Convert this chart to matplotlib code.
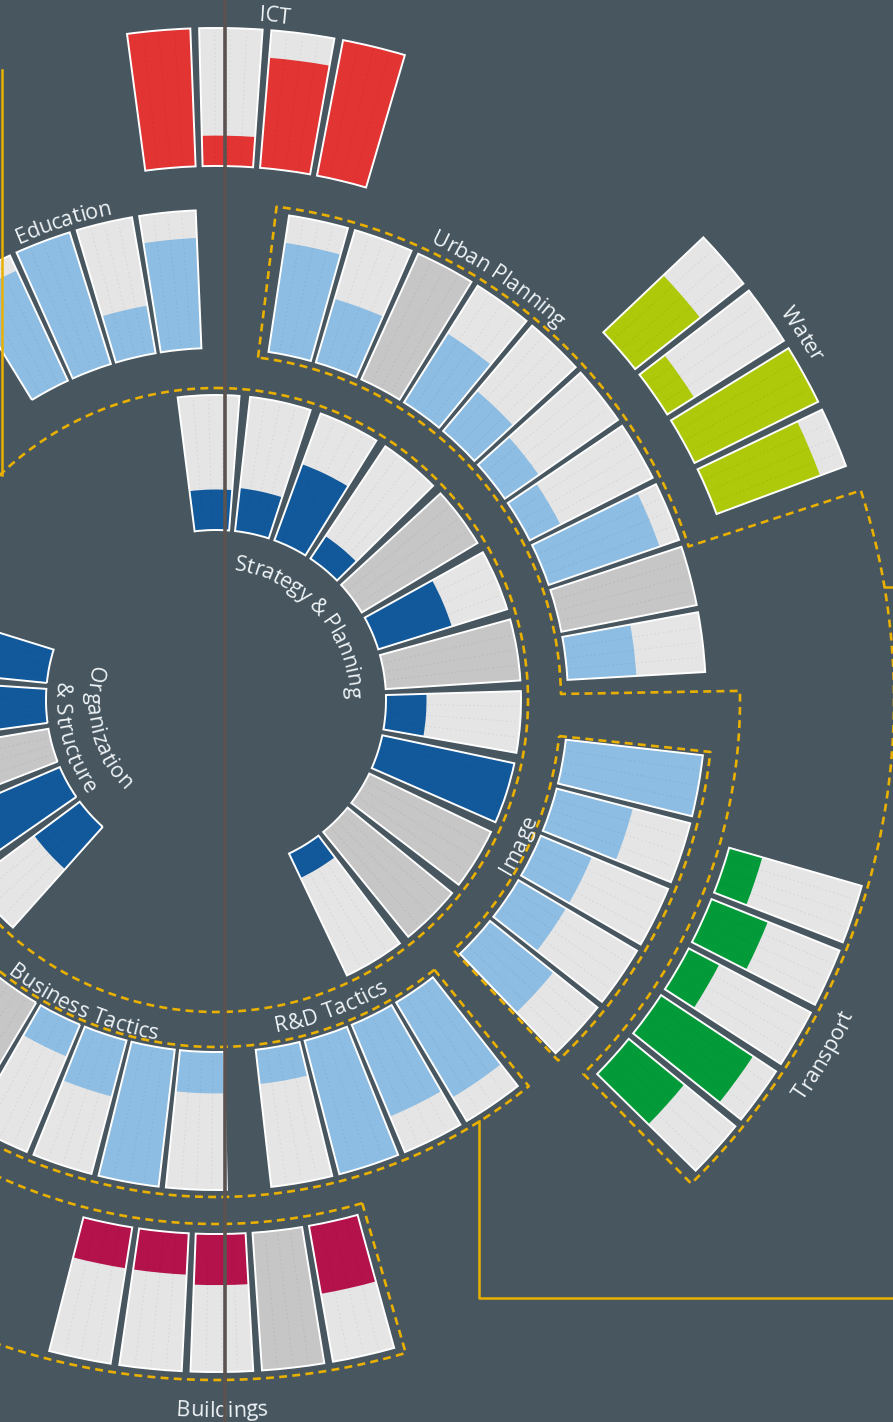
import numpy as np
import matplotlib
matplotlib.use("Agg")
import matplotlib.pyplot as plt
from matplotlib.font_manager import FontProperties
from matplotlib.textpath import TextToPath

# ---- data: share of each indicator that is filled (None = no data) ----
strategy_vals = [0.30, 0.32, 0.60, 0.20, None, 0.57, None, 0.30, 1.00, None, None, 0.20]
organization_vals = [0.42, 0.75, None, 0.60, 0.70]
urban_vals = [0.80, 0.48, None, 0.59, 0.38, 0.30, 0.25, 0.85, None, 0.50]
image_vals = [1.00, 0.57, 0.40, 0.40, 0.59]
rnd_vals = [0.80, 0.72, 1.00, 0.25]
business_vals = [0.30, 1.00, 0.42, 0.25, None]
education_vals = [0.88, 1.00, 0.35, 0.80]
ict_vals = [1.00, 0.22, 0.80, 1.00]
water_vals = [0.60, 0.23, 1.00, 0.80]
transport_vals = [0.25, 0.44, 0.25, 0.80, 0.52]
buildings_vals = [0.50, None, 0.37, 0.30, 0.30]

# ---- style / layout ----
W, H, DPI = 893, 1422, 100
CX, CY = 216, 700          # wheel centre in pixels
RMAX = 760
BG = "#47565f"
LIGHT = "#e5e5e5"
NODATA = "#c6c6c6"
GOLD = "#e9b000"
TEXT = "#eef3f6"
DARK_BLUE = "#12599c"
LIGHT_BLUE = "#8dbde3"
RED = "#e23432"
LIME = "#adc90a"
GREEN = "#039b39"
CRIMSON = "#b3124b"
FONT = "Open Sans"
FS = 15.5

RINGS = [(170, 305), (352, 490), (534, 672)]
GAPS = [2.0, 0.85, 0.75]   # degrees between neighbouring bars

# name, values, colour, ring, first angle, pitch (compass degrees)
groups = [
    ("Strategy", strategy_vals, DARK_BLUE, 0, -1.4, 13.65),
    ("Organization", organization_vals, DARK_BLUE, 0, 227.5, 13.5),
    ("Urban", urban_vals, LIGHT_BLUE, 1, 12.1, 7.9),
    ("Image", image_vals, LIGHT_BLUE, 1, 100.1, 8.1),
    ("R&D", rnd_vals, LIGHT_BLUE, 1, 145.6, 8.1),
    ("Business", business_vals, LIGHT_BLUE, 1, 182.3, 8.0),
    ("Education", education_vals, LIGHT_BLUE, 1, 331.8, 7.5),
    ("ICT", ict_vals, RED, 2, 355.1, 6.17),
    ("Water", water_vals, LIME, 2, 49.1, 5.97),
    ("Transport", transport_vals, GREEN, 2, 108.6, 5.83),
    ("Buildings", buildings_vals, CRIMSON, 2, 167.3, 6.1),
]

fig = plt.figure(figsize=(W / DPI, H / DPI), dpi=DPI, facecolor=BG)
ax = fig.add_axes([(CX - RMAX) / W, (H - CY - RMAX) / H, 2 * RMAX / W, 2 * RMAX / H],
                  projection="polar")
ax.set_theta_zero_location("N")
ax.set_theta_direction(-1)
ax.set_ylim(0, RMAX)
ax.axis("off")

# bars
for name, vals, colour, ring, start, pitch in groups:
    r0, r1 = RINGS[ring]
    width = np.deg2rad(pitch - GAPS[ring])
    thetas = np.deg2rad(start + pitch * np.arange(len(vals)))
    for th, v in zip(thetas, vals):
        base = NODATA if v is None else LIGHT
        ax.bar(th, r1 - r0, width=width, bottom=r0, color=base, linewidth=0, zorder=2)
        if v is not None:
            ax.bar(th, (r1 - r0) * v, width=width, bottom=r0, color=colour,
                   linewidth=0, zorder=3)
        for f in (-0.25, 0.0, 0.25):
            ax.plot([th + f * width] * 2, [r0 + 4, r1 - 4], color="k", alpha=0.08,
                    lw=0.6, ls=(0, (2, 3)), zorder=3.5)
        ax.bar(th, r1 - r0, width=width, bottom=r0, fill=False, edgecolor="white",
               linewidth=1.4, zorder=4)


# dashed group outlines
def arc(t0, t1, r):
    n = max(int(abs(t1 - t0) * 2), 2)
    t = np.linspace(t0, t1, n)
    return list(t), [r] * n


def outline(pts):
    # pts: list of (angle, radius) corners joined by arcs (same radius) or radial lines
    th, rr = [], []
    for (a0, ra), (a1, rb) in zip(pts[:-1], pts[1:]):
        if ra == rb:
            t, r = arc(a0, a1, ra)
        else:
            t, r = [a0, a1], [ra, rb]
        th += t
        rr += r
    ax.plot(np.deg2rad(th), rr, color=GOLD, lw=1.9, ls=(0, (3, 2)), zorder=1,
            solid_capstyle="butt")


outline([(0, 312), (360, 312)])
outline([(7, 345), (7, 497), (72, 497), (72, 678), (135.5, 678), (135.5, 524),
         (89, 524), (89, 345), (7, 345)])
outline([(96, 345), (96, 497), (136.5, 497), (136.5, 345), (96, 345)])
outline([(141, 347), (141, 497), (260, 497)])
outline([(141, 347), (260, 347)])
outline([(163.8, 524), (163.8, 680), (250, 680)])
outline([(163.8, 524), (250, 524)])

# curved labels
_ttp = TextToPath()


def advance(ch, fp):
    w1 = _ttp.get_text_width_height_descent("x" + ch + "x", fp, ismath=False)[0]
    w0 = _ttp.get_text_width_height_descent("xx", fp, ismath=False)[0]
    return (w1 - w0) * DPI / 72


def arc_text(s, theta_c, r_c, clockwise=True, size=FS):
    fp = FontProperties(family=FONT, size=size)
    advs = [advance(ch, fp) for ch in s]
    total = sum(advs)
    fs_px = size * DPI / 72
    r_base = r_c - 0.36 * fs_px if clockwise else r_c + 0.36 * fs_px
    sign = 1 if clockwise else -1
    pos = -total / 2
    for ch, a in zip(s, advs):
        mid = pos + a / 2
        th = np.deg2rad(theta_c) + sign * mid / r_c
        rot = -np.rad2deg(th) if clockwise else 180 - np.rad2deg(th)
        ax.text(th, r_base, ch, rotation=rot, rotation_mode="anchor", ha="center",
                va="baseline", fontproperties=fp, color=TEXT, zorder=6)
        pos += a


arc_text("Strategy & Planning", 48.5, 139)
arc_text("Organization", 255.5, 122, clockwise=False)
arc_text("& Structure", 255, 153, clockwise=False)
arc_text("Urban Planning", 33.8, 512)
arc_text("Education", 342.3, 505)
arc_text("Image", 115.6, 335, clockwise=False)
arc_text("R&D Tactics", 159.5, 330, clockwise=False)
arc_text("Business Tactics", 203.6, 337, clockwise=False)
arc_text("ICT", 4.9, 688)
arc_text("Water", 58.0, 692)
arc_text("Transport", 120.3, 703, clockwise=False)
arc_text("Buildings", 179.5, 709, clockwise=False)

# overlay in pixel coordinates for straight connectors and divider
ov = fig.add_axes([0, 0, 1, 1], zorder=10)
ov.set_xlim(0, W)
ov.set_ylim(H, 0)
ov.axis("off")
ov.patch.set_alpha(0)


def px(theta_deg, r):
    t = np.deg2rad(theta_deg)
    return CX + r * np.sin(t), CY - r * np.cos(t)


x0, y0 = px(148, 497)
ov.plot([x0, x0, W], [y0, 1298, 1298], color=GOLD, lw=1.8)
x1, y1 = px(80.4, 678)
ov.plot([x1, W], [y1, y1], color=GOLD, lw=1.8)
ov.plot([1.5, 1.5], [70, 475], color=GOLD, lw=1.8)
ov.plot([225, 225], [0, H], color="#5a5350", lw=2.6)

fig.savefig("out.png", dpi=DPI, facecolor=BG)
